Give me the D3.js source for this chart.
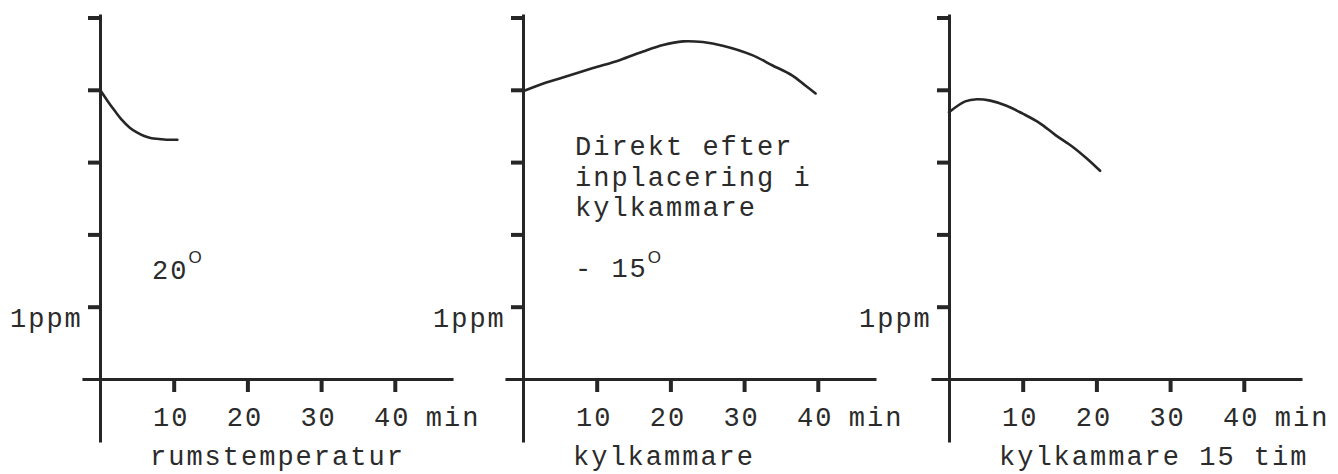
<!DOCTYPE html>
<html>
<head>
<meta charset="utf-8">
<script src="https://cdn.jsdelivr.net/npm/d3@7"></script>
<style>
  html, body { margin: 0; padding: 0; background: #fff; }
  svg { display: block; }
  text { font-family: "Liberation Mono", "DejaVu Sans Mono", monospace; fill: #2b2b2b; }
  tspan.sup { font-family: "Liberation Sans", Arial, sans-serif; }
</style>
</head>
<body>
<svg id="chart" width="1338" height="474"></svg>
<script>
// ---- data ----
const panelTitles = ["rumstemperatur", "kylkammare", "kylkammare 15 tim"];
const xTickValues = [10, 20, 30, 40];
const xUnitLabel = "min";
const yTickValues = [1, 2, 3, 4, 5];
const yUnitLabel = "1ppm";

// panel 1: room temperature (20°)
const room_t   = [0, 1, 2, 3, 4, 5, 6, 7, 8, 9, 10.5];
const room_ppm = [4.0, 3.85, 3.71, 3.58, 3.48, 3.41, 3.36, 3.33, 3.32, 3.31, 3.31];
// panel 2: directly after placing in cold room (-15°)
const cold_t   = [0, 2.3, 5.4, 9.5, 13.1, 16.3, 19.0, 21.7, 24.4, 27.1, 31.1, 33.8, 36.5, 38.3, 39.7];
const cold_ppm = [3.98, 4.07, 4.17, 4.30, 4.41, 4.53, 4.62, 4.67, 4.66, 4.61, 4.48, 4.34, 4.20, 4.06, 3.95];
// panel 3: cold room after 15 h
const cold15_t   = [0, 2.2, 3.8, 5.6, 7.8, 10.0, 12.3, 14.5, 16.8, 18.7, 20.5];
const cold15_ppm = [3.69, 3.84, 3.87, 3.85, 3.78, 3.67, 3.54, 3.37, 3.21, 3.05, 2.88];

const annotation1 = ["20"];
const annotation1Sup = "O";
const annotation2 = ["Direkt efter", "inplacering i", "kylkammare"];
const annotation2Temp = "- 15";
const annotation2Sup = "O";

// ---- layout ----
const svg = d3.select("#chart");
const origins = [100, 523, 949];
const pxPerMin = 7.37;
const yZero = 379, pxPerUnit = 72.3;
const ink = "#262626";

const series = [
  room_t.map((t, i) => ({t, v: room_ppm[i]})),
  cold_t.map((t, i) => ({t, v: cold_ppm[i]})),
  cold15_t.map((t, i) => ({t, v: cold15_ppm[i]}))
];

const yMin = -0.87, yMax = 5.05;
const y = d3.scaleLinear().domain([yMin, yMax]).range([yZero - yMin * pxPerUnit, yZero - yMax * pxPerUnit]);

origins.forEach((ox, p) => {
  const xMin = -2.45, xMax = 47.9;
  const x = d3.scaleLinear().domain([xMin, xMax]).range([ox + xMin * pxPerMin, ox + xMax * pxPerMin]);
  const g = svg.append("g");

  // y axis
  const yAxis = d3.axisLeft(y).tickValues(yTickValues).tickSize(12).tickSizeOuter(0).tickFormat("");
  const ya = g.append("g").attr("transform", `translate(${ox},0)`).call(yAxis);
  ya.select(".domain").attr("stroke", ink).attr("stroke-width", 3);
  ya.selectAll(".tick line").attr("stroke", ink).attr("stroke-width", 4);

  // x axis
  const xAxis = d3.axisBottom(x).tickValues(xTickValues).tickSize(13).tickSizeOuter(0).tickFormat("");
  const xa = g.append("g").attr("transform", `translate(0,${y(0)})`).call(xAxis);
  xa.select(".domain").attr("stroke", ink).attr("stroke-width", 3);
  xa.selectAll(".tick line").attr("stroke", ink).attr("stroke-width", 4);

  // x tick labels
  g.selectAll("text.xl").data(xTickValues).enter().append("text")
    .attr("class", "xl")
    .attr("x", d => x(d) - 2.5)
    .attr("y", 426)
    .attr("text-anchor", "middle")
    .attr("font-size", 27)
    .attr("letter-spacing", 2)
    .text(d => d);

  g.append("text")
    .attr("x", x(40) + 31)
    .attr("y", 426)
    .attr("font-size", 27)
    .attr("letter-spacing", 2)
    .text(xUnitLabel);

  // y unit label
  g.append("text")
    .attr("x", ox - 90)
    .attr("y", y(1) + 20)
    .attr("font-size", 27)
    .attr("letter-spacing", 2)
    .text(yUnitLabel);

  // title below
  g.append("text")
    .attr("x", ox + 50)
    .attr("y", 465)
    .attr("font-size", 27)
    .attr("letter-spacing", 2)
    .text(panelTitles[p]);

  // curve
  const line = d3.line().x(d => x(d.t)).y(d => y(d.v)).curve(d3.curveCatmullRom.alpha(0.5));
  g.append("path").datum(series[p])
    .attr("d", line)
    .attr("fill", "none")
    .attr("stroke", ink)
    .attr("stroke-width", 2.6)
    .attr("stroke-linejoin", "round")
    .attr("stroke-linecap", "round");
});

// annotations
const a1 = svg.append("text")
  .attr("x", 152).attr("y", 279)
  .attr("font-size", 27).attr("letter-spacing", 2);
a1.append("tspan").text(annotation1[0]);
a1.append("tspan").attr("class", "sup").attr("font-size", 17).attr("dy", -16).attr("dx", 0).text(annotation1Sup);

annotation2.forEach((s, i) => {
  svg.append("text")
    .attr("x", 575).attr("y", 155 + i * 30.5)
    .attr("font-size", 27).attr("letter-spacing", 2)
    .style("white-space", "pre")
    .text(s);
});
const a2 = svg.append("text")
  .attr("x", 575).attr("y", 277)
  .attr("font-size", 27).attr("letter-spacing", 2)
  .style("white-space", "pre");
a2.append("tspan").text(annotation2Temp);
a2.append("tspan").attr("class", "sup").attr("font-size", 17).attr("dy", -14).attr("dx", 0).text(annotation2Sup);
</script>
</body>
</html>
